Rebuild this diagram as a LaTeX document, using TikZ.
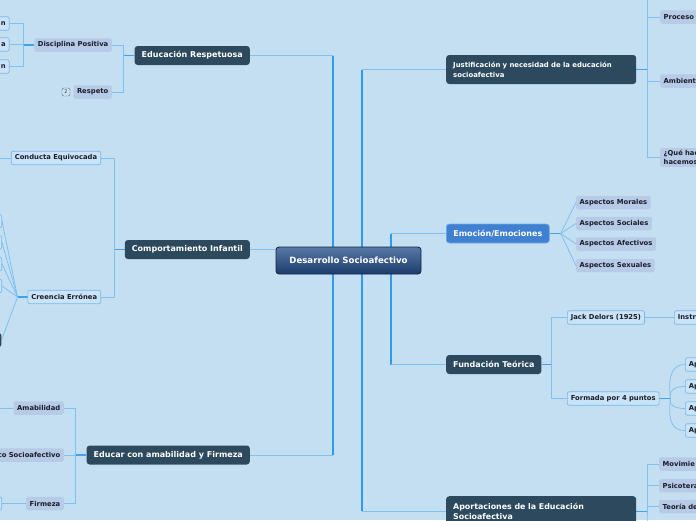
\documentclass[tikz,border=0pt]{standalone}
\usepackage{fontspec}
\setmainfont{DejaVu Sans}
\usepackage{xcolor}
\definecolor{bgblue}{RGB}{197,223,242}
\definecolor{slate}{RGB}{45,73,94}
\definecolor{navytop}{RGB}{88,121,166}
\definecolor{navybot}{RGB}{28,60,108}
\definecolor{midblue}{RGB}{64,128,208}
\definecolor{lavender}{RGB}{183,202,232}
\definecolor{paleblue}{RGB}{202,227,247}
\definecolor{edgeblue}{RGB}{118,184,236}
\definecolor{linkblue}{RGB}{128,192,240}
\definecolor{trunkblue}{RGB}{45,155,235}
\definecolor{ink}{RGB}{25,30,40}
\usepackage{tikz}
\usetikzlibrary{positioning,calc}
\pgfdeclarelayer{bg}
\pgfsetlayers{bg,main}

\begin{document}
\begin{tikzpicture}[x=1pt,y=-1pt,
  root/.style={rectangle,rounded corners=3pt,draw=navybot!60!black,line width=0.8pt,
    top color=navytop,bottom color=navybot,text=white,
    font=\bfseries\fontsize{8.6}{10}\selectfont,minimum width=145pt,minimum height=27pt},
  topic/.style={rectangle,rounded corners=3pt,fill=slate,text=white,
    font=\bfseries\fontsize{8}{10}\selectfont,minimum height=19pt,inner xsep=7pt},
  emotopic/.style={topic,fill=midblue,draw=edgeblue!80!midblue,line width=0.6pt},
  leaf/.style={rectangle,rounded corners=2pt,fill=lavender,text=ink,
    font=\bfseries\fontsize{6.8}{9.5}\selectfont,minimum height=13.5pt,inner xsep=3.5pt,inner ysep=1pt},
  leafbox/.style={leaf,fill=paleblue,draw=edgeblue,line width=0.7pt},
  cutoff/.style={text width=#1,align=left},
  cutleft/.style={text width=#1,align=right},
  counter/.style={rectangle,rounded corners=1.5pt,draw=gray!80!black,fill=paleblue,
    minimum size=8pt,inner sep=0pt,font=\fontsize{5}{5}\selectfont,text=gray!40!black},
  trunk/.style={draw=trunkblue,line width=1.1pt},
  stub/.style={draw=trunkblue!80!linkblue,line width=1.1pt},
  branch/.style={draw=linkblue,line width=0.8pt},
]
\useasboundingbox (0,0) rectangle (696,520);

% centre and main topics
\node[root] (root) at (348.5,260.5) {Desarrollo Socioafectivo};
\node[topic,anchor=east] (resp) at (250,55.5) {Educación Respetuosa};
\node[topic,anchor=east] (comp) at (250,249.5) {Comportamiento Infantil};
\node[topic,anchor=east] (educ) at (250,455) {Educar con amabilidad y Firmeza};
\node[topic,anchor=west,text width=176pt,align=left,minimum height=29pt,
  font=\bfseries\fontsize{6.9}{10}\selectfont] (just) at (446,69.5)
  {Justificación y necesidad de la educación\\socioafectiva};
\node[emotopic,anchor=west] (emo) at (446,233.5) {Emoción/Emociones};
\node[topic,anchor=west] (fund) at (446,364.5) {Fundación Teórica};
\node[topic,anchor=north west,text width=176pt,align=left,minimum height=30pt,inner ysep=3pt,
  font=\bfseries\fontsize{7.9}{10}\selectfont] (aport) at (446,496)
  {Aportaciones de la Educación\\Socioafectiva};

% left leaves
\node[leaf,anchor=east] (disc) at (112,45) {Disciplina Positiva};
\node[leaf,anchor=east] (respeto) at (112,92) {Respeto};
\node[counter] (respn) at (66,92) {2};
\node[leafbox,anchor=east,cutleft=20pt] (dk1) at (9.5,23.5) {n};
\node[leafbox,anchor=east,cutleft=20pt] (dk2) at (9.5,44.5) {a};
\node[leafbox,anchor=east,cutleft=20pt] (dk3) at (9.5,66.5) {n};
\node[leafbox,anchor=east] (cond) at (101,158) {Conducta Equivocada};
\node[leafbox,anchor=east] (cree) at (101,297) {Creencia Errónea};
\node[leafbox,anchor=east,minimum width=20pt] (ck1) at (2,221) {};
\node[leafbox,anchor=east,minimum width=20pt] (ck2) at (2,242.5) {};
\node[leafbox,anchor=east,minimum width=20pt] (ck3) at (2,264) {};
\node[leafbox,anchor=east,minimum width=20pt] (ck4) at (2,286) {};
\node[leaf,fill=slate,anchor=east,minimum width=20pt] (ck5) at (1.5,340) {};
\node[leaf,anchor=east] (amab) at (64,408) {Amabilidad};
\node[leaf,anchor=east] (socio) at (64,455) {co Socioafectivo};
\node[leaf,anchor=east] (firm) at (64,503.5) {Firmeza};
\node[leafbox,anchor=east,minimum width=20pt] (fk) at (2,503.5) {};
\coordinate (condkid) at (-6,158);
\coordinate (amabkid) at (-6,408);

% right leaves
\node[leaf,anchor=west,cutoff=46pt] (proc) at (660,17) {Proceso};
\node[leaf,anchor=west,cutoff=46pt] (amb) at (660,81) {Ambient};
\node[leaf,anchor=west,cutoff=46pt,minimum height=19pt] (que) at (660,157.5) {¿Qué hac\\hacemos};
\coordinate (justtop) at (647,-6);
\node[leaf,anchor=west] (am) at (576,202.5) {Aspectos Morales};
\node[leaf,anchor=west] (as) at (576,223.5) {Aspectos Sociales};
\node[leaf,anchor=west] (aa) at (576,244) {Aspectos Afectivos};
\node[leaf,anchor=west] (ax) at (576,265.5) {Aspectos Sexuales};
\node[leafbox,anchor=west] (jack) at (567,317.5) {Jack Delors (1925)};
\node[leafbox,anchor=west,cutoff=30pt] (instr) at (674,317.5) {Instr};
\node[leafbox,anchor=west] (form) at (567,398.5) {Formada por 4 puntos};
\node[leafbox,anchor=west,cutoff=20pt] (ap1) at (685,364.5) {Ap};
\node[leafbox,anchor=west,cutoff=20pt] (ap2) at (685,386.5) {Ap};
\node[leafbox,anchor=west,cutoff=20pt] (ap3) at (685,408.5) {Ap};
\node[leafbox,anchor=west,cutoff=20pt] (ap4) at (685,430.5) {Ap};
\node[leaf,anchor=west,cutoff=46pt] (mov) at (659,464) {Movimie};
\node[leaf,anchor=west,cutoff=46pt] (psi) at (659,485.5) {Psicotera};
\node[leaf,anchor=west,cutoff=46pt] (teo) at (659,506.5) {Teoría de};
\coordinate (aportbot) at (647,530);

\begin{pgfonlayer}{bg}
\fill[bgblue] (0,0) rectangle (696,520);
\coordinate (hubL) at (333,260.5);
\coordinate (hubR) at (362,260.5);
\coordinate (hubE) at (391,260.5);
% trunks from the centre
\draw[trunk] (hubL |- resp.east) -- (hubL |- educ.east);
\foreach \n in {resp,educ} \draw[branch] (\n.east) -- (hubL |- \n.east);
\draw[branch] (comp.east) -- (comp.east -| root.west);
\draw[trunk] (hubR |- just.west) -- (hubR |- aport.west);
\foreach \n in {just,aport} \draw[branch] (\n.west) -- (hubR |- \n.west);
\draw[trunk] (hubE |- emo.west) -- (hubE |- fund.west);
\foreach \n in {emo,fund} \draw[branch] (\n.west) -- (hubE |- \n.west);

% left side
\draw[stub] (resp.west) -- ++(-11,0) coordinate (respel);
\foreach \k in {disc,respeto} \draw[branch] (respel) |- (\k.east);
\draw[stub] (disc.west) -- ++(-11,0) coordinate (discel);
\foreach \k in {dk1,dk2,dk3} \draw[branch] (discel) |- (\k.east);
\draw[stub] (comp.west) -- ++(-10,0) coordinate (compel);
\foreach \k in {cond,cree} \draw[branch] (compel) |- (\k.east);
\draw[branch] (cond.west) -- (condkid);
\draw[stub] (cree.west) -- ++(-10,0) coordinate (creefan);
\foreach \k in {ck1,ck2,ck3,ck4,ck5} \draw[branch] (creefan) -- (\k.east);
\draw[stub] (educ.west) -- ++(-11,0) coordinate (educel);
\foreach \k in {amab,socio,firm} \draw[branch] (educel) |- (\k.east);
\draw[branch] (amab.west) -- (amabkid);
\draw[branch] (firm.west) -- (fk.east);

% right side
\draw[stub] (just.east) -- ++(11,0) coordinate (justel);
\draw[branch] (justtop) |- (proc.west);
\foreach \k in {proc,amb,que} \draw[branch] (justel) |- (\k.west);
\draw[stub] (emo.east) -- ++(11,0) coordinate (emofan);
\foreach \k in {am,as,aa,ax} \draw[branch] (emofan) -- (\k.west);
\draw[stub] (fund.east) -- ++(10,0) coordinate (fundel);
\foreach \k in {jack,form} \draw[branch] (fundel) |- (\k.west);
\draw[branch] (jack.east) -- (instr.west);
\draw[stub] (form.east) -- ++(11,0) coordinate (formfan);
\draw[branch] (formfan) .. controls +(-3,-24) and +(-12,0) .. (ap1.west);
\draw[branch] (formfan) .. controls +(-2,-10) and +(-8,0) .. (ap2.west);
\draw[branch] (formfan) .. controls +(-2,8) and +(-8,0) .. (ap3.west);
\draw[branch] (formfan) .. controls +(-3,24) and +(-12,0) .. (ap4.west);
\draw[stub] (aport.east) -- ++(11,0) coordinate (aportel);
\foreach \k in {mov,psi,teo} \draw[branch] (aportel) |- (\k.west);
\draw[branch] (aportel) -- (aportbot);
\end{pgfonlayer}
\end{tikzpicture}
\end{document}
